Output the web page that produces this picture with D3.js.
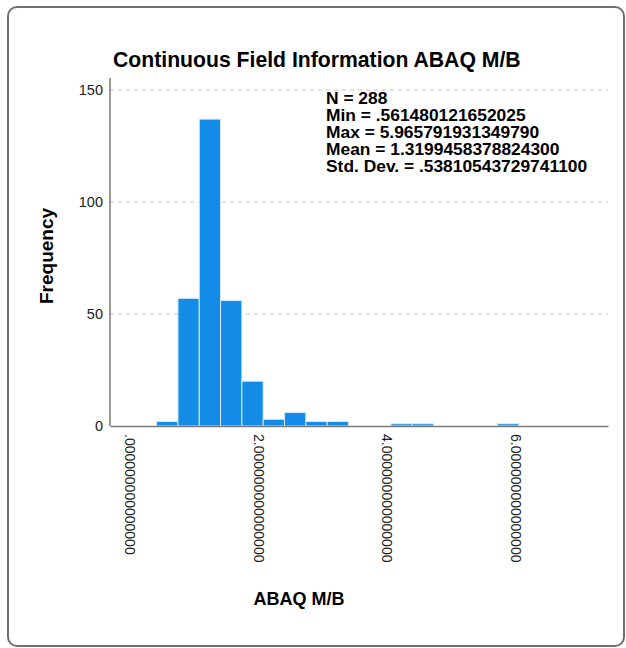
<!DOCTYPE html>
<html>
<head>
<meta charset="utf-8">
<script src="https://cdn.jsdelivr.net/npm/d3@7"></script>
<style>
  body { margin: 0; background: #fff; }
  text { font-family: "Liberation Sans", Arial, sans-serif; }
</style>
</head>
<body>
<div id="viz"><svg width="626" height="648"></svg></div>
<script>
// histogram bins (ABAQ M/B), first bin edge + bin width, then counts per bin
const binStart = 0.415
const binWidth = 0.3316
const counts = [2, 57, 137, 56, 20, 3, 6, 2, 2, 0, 0, 1, 1, 0, 0, 0, 1]

const yTicks = [0, 50, 100, 150]
const xTicks = [0, 2, 4, 6]

const statLines = [
    "N = 288",
    "Min = .561480121652025",
    "Max = 5.965791931349790",
    "Mean = 1.3199458378824300",
    "Std. Dev. = .53810543729741100"
]

const bins = counts.map((c, i) => ({x0: binStart + i * binWidth, x1: binStart + (i + 1) * binWidth, n: c}))

svg = d3.select("#viz").select("svg")

// outer frame
svg.append("rect")
    .attr("x", 8).attr("y", 7)
    .attr("width", 616).attr("height", 639)
    .attr("rx", 9)
    .attr("fill", "none")
    .attr("stroke", "#6f6f6f")
    .attr("stroke-width", 2)

x = d3.scaleLinear().domain([-0.311, 7.44]).range([110, 608])
y = d3.scaleLinear().domain([0, 150]).range([426, 90])

// grid lines
svg.append("g")
    .selectAll("line")
    .data(yTicks.filter(d => d > 0))
    .enter()
    .append("line")
    .attr("x1", x.range()[0]).attr("x2", x.range()[1])
    .attr("y1", d => y(d)).attr("y2", d => y(d))
    .attr("stroke", "#c4c4c4")
    .attr("stroke-dasharray", "4,4")

// bars
svg.append("g")
    .selectAll("rect")
    .data(bins.filter(d => d.n > 0))
    .enter()
    .append("rect")
    .attr("x", d => x(d.x0))
    .attr("width", d => x(d.x1) - x(d.x0))
    .attr("y", d => y(d.n))
    .attr("height", d => y(0) - y(d.n))
    .attr("fill", "#128ce6")
    .attr("stroke", "#d8eafa")
    .attr("stroke-width", 1)

// y axis
yAxis = svg.append("g")
    .attr("transform", "translate(" + 110 + ", 0)")
    .call(d3.axisLeft(y).tickValues(yTicks).tickSize(0).tickPadding(7))
yAxis.select(".domain").attr("stroke", "#7a7a7a").attr("stroke-width", 1.5)
    .attr("d", "M0," + y(0) + "V" + 78)
yAxis.selectAll("text")
    .attr("font-size", 14.5)
    .attr("fill", "#222")
    .style("font-family", "Liberation Sans, Arial, sans-serif")

// x axis
xAxis = svg.append("g")
    .attr("transform", "translate(0, " + y(0) + ")")
    .call(d3.axisBottom(x).tickValues(xTicks).tickSize(0))
xAxis.select(".domain").attr("stroke", "#7a7a7a").attr("stroke-width", 1.5)
xAxis.selectAll("text")
    .text(d => d3.format(".15f")(d).replace(/^0/, ""))
    .attr("font-size", 14)
    .attr("fill", "#222")
    .style("font-family", "Liberation Sans, Arial, sans-serif")
    .attr("text-anchor", "start")
    .attr("dy", "0")
    .attr("y", 0)
    .attr("transform", "translate(-5, 8) rotate(90)")

// title
svg.append("text")
    .attr("x", 113).attr("y", 67)
    .attr("font-size", 21.2)
    .attr("font-weight", "bold")
    .text("Continuous Field Information ABAQ M/B")

// stats block (slightly stretched sideways, like the original)
svg.append("g")
    .attr("transform", "translate(326, 0) scale(1.087, 1)")
    .append("text")
    .attr("font-size", 16)
    .attr("font-weight", "bold")
    .selectAll("tspan")
    .data(statLines)
    .enter()
    .append("tspan")
    .attr("x", 0)
    .attr("y", (d, i) => 104 + i * 17)
    .text(d => d)

// axis titles
svg.append("text")
    .attr("transform", "translate(" + 53 + ", " + 256 + ") rotate(-90)")
    .attr("text-anchor", "middle")
    .attr("font-size", 19)
    .attr("font-weight", "bold")
    .text("Frequency")

svg.append("text")
    .attr("x", 299).attr("y", 605)
    .attr("text-anchor", "middle")
    .attr("font-size", 18)
    .attr("font-weight", "bold")
    .text("ABAQ M/B")
</script>
</body>
</html>
